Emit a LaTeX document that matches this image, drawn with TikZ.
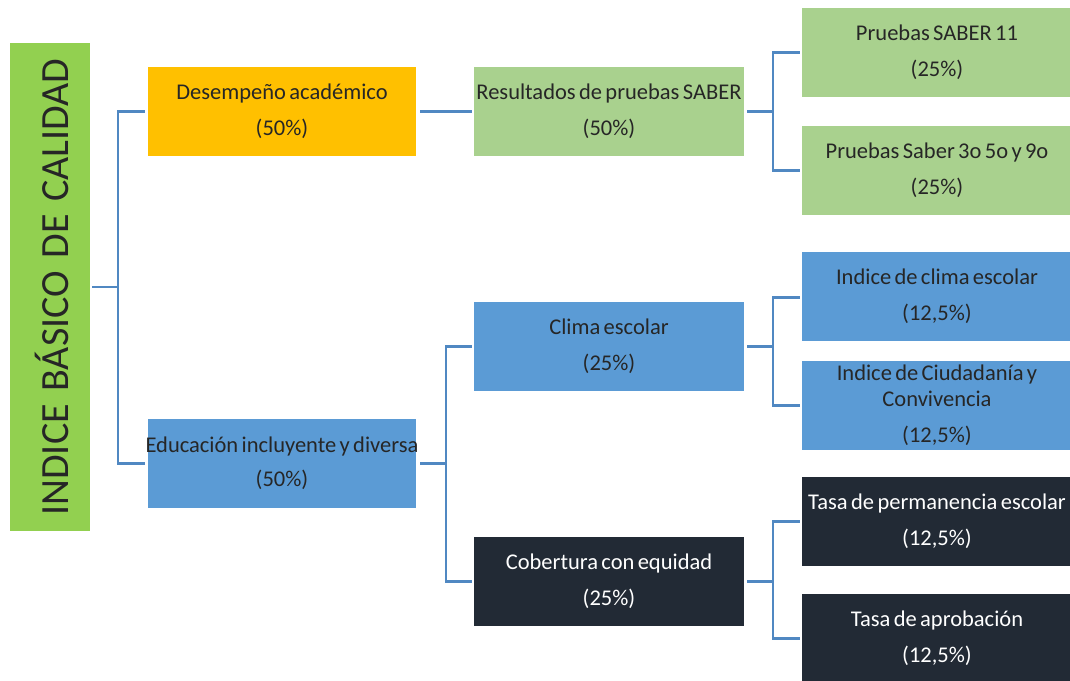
\documentclass[tikz,border=0pt]{standalone}
\usepackage{fontspec}
\setmainfont{Carlito}
\newfontfamily\rootfont{Carlito}[WordSpace=1.4]
\newcommand\boxfnt{\fontsize{22.5}{26}\selectfont\spaceskip 0.15em plus 0.05em\relax}
\definecolor{lgreen}{HTML}{92D050}
\definecolor{pgreen}{HTML}{A9D18E}
\definecolor{gold}{HTML}{FFC000}
\definecolor{mblue}{HTML}{5B9BD5}
\definecolor{dnavy}{HTML}{222A35}
\definecolor{lineblue}{HTML}{5088C2}
\definecolor{txt}{HTML}{262626}
\begin{document}
\begin{tikzpicture}[x=1pt,y=-1pt,
  box/.style={draw=none,minimum width=268pt,minimum height=89pt,inner sep=0pt,align=center,
    font=\boxfnt,text=txt},
  wbox/.style={box,minimum width=270pt},
  conn/.style={draw=lineblue,line width=2.5pt}]
\useasboundingbox (0,0) rectangle (1070,680);
\clip (0,0) rectangle (1070,680);
\node[fill=lgreen,minimum width=80pt,minimum height=488pt,inner sep=0pt] (root) at (50,287) {};
\node[rotate=90,font=\rootfont\fontsize{40}{46}\selectfont,text=black!85] (roottxt) at ([xshift=2pt]root.center) {INDICE BÁSICO DE CALIDAD};
\node[box,fill=gold] (des) at (282,111.5) {Desempeño académico\\[10pt](50\%)};
\node[box,fill=mblue] (edu) at (282,463.5) {\makebox[266pt]{Educación incluyente y diversa}\\[8pt](50\%)};
\node[wbox,fill=pgreen] (res) at (609,111.5) {Resultados de pruebas SABER\\[10pt](50\%)};
\node[wbox,fill=mblue] (cli) at (609,346.5) {Clima escolar\\[10pt](25\%)};
\node[wbox,fill=dnavy,text=white] (cob) at (609,581.5) {Cobertura con equidad\\[10pt](25\%)};
\node[wbox,fill=pgreen] (s11) at (937,52.5) {Pruebas SABER 11\\[10pt](25\%)};
\node[wbox,fill=pgreen] (s359) at (937,170.5) {Pruebas Saber 3o 5o y 9o\\[10pt](25\%)};
\node[wbox,fill=mblue] (icl) at (937,296.5) {Indice de clima escolar\\[10pt](12,5\%)};
\node[wbox,fill=mblue] (ciu) at (937,405.5) {Indice de Ciudadanía y\\Convivencia\\[10pt](12,5\%)};
\node[wbox,fill=dnavy,text=white] (per) at (937,521.5) {Tasa de permanencia escolar\\[10pt](12,5\%)};
\node[wbox,fill=dnavy,text=white] (apr) at (937,638.5) {Tasa de aprobación\\[10pt](12,5\%)};
% connectors
\draw[conn] ([xshift=2pt]root.east) -- ++(26,0) coordinate (j0);
\draw[conn] (j0) |- ([xshift=-3pt]des.west);
\draw[conn] (j0) |- ([xshift=-3pt]edu.west);
\draw[conn] ([xshift=4pt]des.east) -- ([xshift=-2pt]res.west);
\draw[conn] ([xshift=3pt]res.east) -- ++(26,0) coordinate (j1);
\draw[conn] (j1) |- ([xshift=-2pt]s11.west);
\draw[conn] (j1) |- ([xshift=-2pt]s359.west);
\draw[conn] ([xshift=4pt]edu.east) -- ++(26,0) coordinate (j2);
\draw[conn] (j2) |- ([xshift=-2pt]cli.west);
\draw[conn] (j2) |- ([xshift=-2pt]cob.west);
\draw[conn] ([xshift=3pt]cli.east) -- ++(26,0) coordinate (j3);
\draw[conn] (j3) |- ([xshift=-2pt,yshift=-1pt]icl.west);
\draw[conn] (j3) |- ([xshift=-2pt]ciu.west);
\draw[conn] ([xshift=3pt]cob.east) -- ++(26,0) coordinate (j4);
\draw[conn] (j4) |- ([xshift=-2pt]per.west);
\draw[conn] (j4) |- ([xshift=-2pt]apr.west);
\end{tikzpicture}
\end{document}
